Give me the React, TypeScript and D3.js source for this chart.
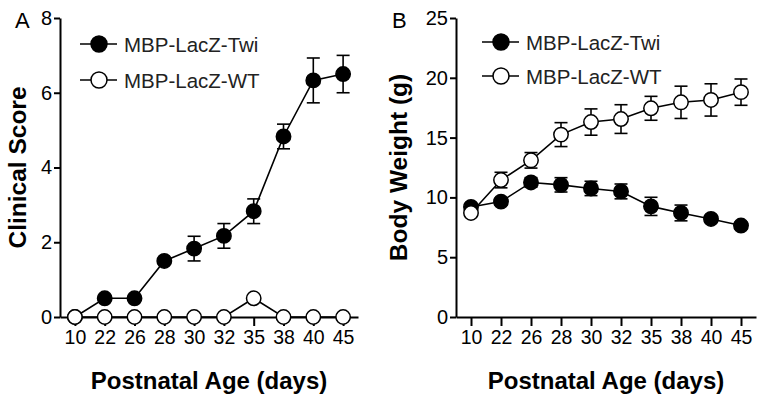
import { useEffect, useRef } from "react";
import * as d3 from "d3";

const days = ["10", "22", "26", "28", "30", "32", "35", "38", "40", "45"];

// panel A – clinical score
const scoreTwi = [0, 0.5, 0.5, 1.5, 1.83, 2.17, 2.83, 4.83, 6.33, 6.5];
const scoreTwiErr = [0, 0, 0, 0, 0.33, 0.33, 0.33, 0.33, 0.6, 0.5];
const scoreWT = [0, 0, 0, 0, 0, 0, 0.5, 0, 0, 0];
const scoreWTErr = [0, 0, 0, 0, 0, 0, 0, 0, 0, 0];
const scoreTicks = [0, 2, 4, 6, 8];

// panel B – body weight
const weightTwi = [9.2, 9.65, 11.25, 11.05, 10.75, 10.5, 9.25, 8.7, 8.2, 7.65];
const weightTwiErr = [0.3, 0.3, 0.4, 0.6, 0.6, 0.62, 0.76, 0.66, 0.3, 0.3];
const weightWT = [8.7, 11.45, 13.1, 15.25, 16.3, 16.55, 17.45, 17.95, 18.15, 18.8];
const weightWTErr = [0.3, 0.65, 0.65, 1.0, 1.1, 1.2, 1.0, 1.35, 1.35, 1.1];
const weightTicks = [0, 5, 10, 15, 20, 25];

const seriesNames = ["MBP-LacZ-Twi", "MBP-LacZ-WT"];

const FONT = "'Liberation Sans', Arial, Helvetica, sans-serif";

type Panel = {
  letter: string;
  letterX: number;
  left: number;
  right: number;
  ymax: number;
  ticks: number[];
  title: string;
  titleX: number;
  series: { vals: number[]; err: number[]; filled: boolean }[];
  legX: number;
  legY: number[];
};

export default function App() {
  const ref = useRef<SVGSVGElement>(null);

  useEffect(() => {
    if (!ref.current) return;
    const svg = d3.select(ref.current);
    svg.selectAll("*").remove();

    const top = 18;
    const bottom = 317;

    const panels: Panel[] = [
      {
        letter: "A",
        letterX: 15,
        left: 60,
        right: 358,
        ymax: 8,
        ticks: scoreTicks,
        title: "Clinical Score",
        titleX: 26,
        series: [
          { vals: scoreTwi, err: scoreTwiErr, filled: true },
          { vals: scoreWT, err: scoreWTErr, filled: false },
        ],
        legX: 80,
        legY: [44, 80],
      },
      {
        letter: "B",
        letterX: 392,
        left: 456,
        right: 756,
        ymax: 25,
        ticks: weightTicks,
        title: "Body Weight (g)",
        titleX: 407,
        series: [
          { vals: weightTwi, err: weightTwiErr, filled: true },
          { vals: weightWT, err: weightWTErr, filled: false },
        ],
        legX: 482,
        legY: [42, 76],
      },
    ];

    panels.forEach((p) => {
      const x = d3.scalePoint<string>().domain(days).range([p.left, p.right]).padding(0.5);
      const y = d3.scaleLinear().domain([0, p.ymax]).range([bottom, top]);
      const g = svg.append("g");

      // y axis
      const ya = g.append("g").attr("transform", `translate(${p.left},0)`)
        .call(d3.axisLeft(y).tickValues(p.ticks).tickSize(6).tickPadding(2).tickSizeOuter(0));
      ya.select(".domain").attr("stroke-width", 2);
      ya.selectAll(".tick line").attr("stroke-width", 2);
      ya.selectAll(".tick text").attr("font-size", 20).attr("font-family", FONT).attr("fill", "#000");

      // x axis
      const xa = g.append("g").attr("transform", `translate(0,${bottom})`)
        .call(d3.axisBottom(x).tickSize(9).tickPadding(4).tickSizeOuter(0));
      xa.select(".domain").attr("stroke-width", 2);
      xa.selectAll(".tick line").attr("stroke-width", 2);
      xa.selectAll(".tick text").attr("font-size", 19.5).attr("font-family", FONT).attr("fill", "#000");

      // panel letter
      g.append("text").attr("x", p.letterX).attr("y", 28)
        .attr("font-size", 22).attr("font-family", FONT).text(p.letter);

      // axis titles
      g.append("text")
        .attr("transform", `translate(${p.titleX},${(top + bottom) / 2}) rotate(-90)`)
        .attr("text-anchor", "middle").attr("font-size", 24.5).attr("font-weight", "bold")
        .attr("font-family", FONT).text(p.title);
      g.append("text")
        .attr("x", (p.left + p.right) / 2).attr("y", 389)
        .attr("text-anchor", "middle").attr("font-size", 24).attr("font-weight", "bold")
        .attr("font-family", FONT).text("Postnatal Age (days)");

      // series
      p.series.forEach((s) => {
        const pts = days.map((d, i) => ({ d, v: s.vals[i], e: s.err[i] }));
        const eb = g.append("g").attr("stroke", "#000").attr("stroke-width", 1.6);
        pts.filter((q) => q.e > 0).forEach((q) => {
          const cx = x(q.d)!;
          eb.append("line").attr("x1", cx).attr("x2", cx).attr("y1", y(q.v - q.e)).attr("y2", y(q.v + q.e));
          eb.append("line").attr("x1", cx - 6.5).attr("x2", cx + 6.5).attr("y1", y(q.v - q.e)).attr("y2", y(q.v - q.e));
          eb.append("line").attr("x1", cx - 6.5).attr("x2", cx + 6.5).attr("y1", y(q.v + q.e)).attr("y2", y(q.v + q.e));
        });
        const line = d3.line<{ d: string; v: number }>().x((q) => x(q.d)!).y((q) => y(q.v));
        g.append("path").datum(pts).attr("d", line).attr("fill", "none")
          .attr("stroke", "#000").attr("stroke-width", 1.6);
        g.append("g").selectAll("circle").data(pts).join("circle")
          .attr("cx", (q) => x(q.d)!).attr("cy", (q) => y(q.v)).attr("r", 7.2)
          .attr("fill", s.filled ? "#000" : "#fff").attr("stroke", "#000").attr("stroke-width", 1.5);
      });

      // legend
      p.legY.forEach((ly, i) => {
        const lg = g.append("g");
        lg.append("line").attr("x1", p.legX).attr("x2", p.legX + 37).attr("y1", ly).attr("y2", ly)
          .attr("stroke", "#000").attr("stroke-width", 1.6);
        lg.append("circle").attr("cx", p.legX + 19).attr("cy", ly).attr("r", 8)
          .attr("fill", i === 0 ? "#000" : "#fff").attr("stroke", "#000").attr("stroke-width", 1.5);
        lg.append("text").attr("x", p.legX + 44).attr("y", ly + 7.5)
          .attr("font-size", 20.5).attr("font-family", FONT).attr("fill", "#222").text(seriesNames[i]);
      });
    });
  }, []);

  return (
    <div style={{ position: "absolute", left: 0, top: 0 }}>
      <svg ref={ref} width={765} height={403} style={{ display: "block", background: "#fff" }} />
    </div>
  );
}
